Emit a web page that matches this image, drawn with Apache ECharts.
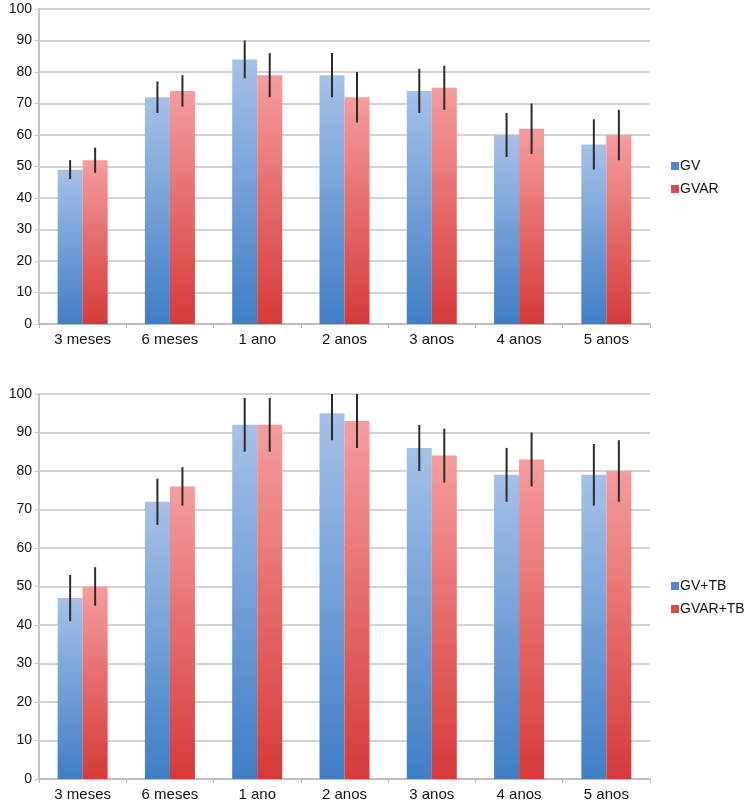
<!DOCTYPE html>
<html>
<head>
<meta charset="utf-8">
<script src="https://cdn.jsdelivr.net/npm/echarts@6/dist/echarts.min.js"></script>
<style>
html,body{margin:0;padding:0;background:#fff;}
#chart{width:750px;height:811px;}
</style>
</head>
<body>
<div id="chart"></div>
<script>
var categories = ['3 meses', '6 meses', '1 ano', '2 anos', '3 anos', '4 anos', '5 anos'];
var yTicks = [0, 10, 20, 30, 40, 50, 60, 70, 80, 90, 100];

// Top chart
var gv = [49, 72, 84, 79, 74, 60, 57];
var gvErr = [3, 5, 6, 7, 7, 7, 8];
var gvar = [52, 74, 79, 72, 75, 62, 60];
var gvarErr = [4, 5, 7, 8, 7, 8, 8];

// Bottom chart
var gvTb = [47, 72, 92, 95, 86, 79, 79];
var gvTbErr = [6, 6, 7, 7, 6, 7, 8];
var gvarTb = [50, 76, 92, 93, 84, 83, 80];
var gvarTbErr = [5, 5, 7, 7, 7, 7, 8];

var chart = echarts.init(document.getElementById('chart'));

var BAR_W = 25;
var FONT = 'Liberation Sans, Arial, Helvetica, sans-serif';

function grad(top, bottom) {
  return new echarts.graphic.LinearGradient(0, 0, 0, 1, [
    {offset: 0, color: top},
    {offset: 1, color: bottom}
  ]);
}
var blueGrad = function(){ return grad('#a6c1e8', '#3f7ec6'); };
var redGrad = function(){ return grad('#f59d9d', '#d53a39'); };

function errSeries(vals, errs, axisIdx, offset) {
  var data = vals.map(function(v, i){ return [i, v - errs[i], v + errs[i]]; });
  return {
    type: 'custom',
    xAxisIndex: axisIdx,
    yAxisIndex: axisIdx,
    silent: true,
    z: 10,
    data: data,
    encode: {x: 0, y: [1, 2]},
    renderItem: function(params, api) {
      var lo = api.coord([api.value(0), api.value(1)]);
      var hi = api.coord([api.value(0), api.value(2)]);
      var x = lo[0] + offset;
      var cs = params.coordSys;
      var y1 = Math.min(Math.max(lo[1], cs.y), cs.y + cs.height);
      var y2 = Math.min(Math.max(hi[1], cs.y), cs.y + cs.height);
      return {
        type: 'line',
        shape: {x1: x, y1: y1, x2: x, y2: y2},
        style: {stroke: '#2b2b2b', lineWidth: 2}
      };
    }
  };
}

function xAxis(gridIdx) {
  return {
    type: 'category',
    gridIndex: gridIdx,
    data: categories,
    axisLine: {lineStyle: {color: '#b8b8b8', width: 1.5}},
    axisTick: {show: true, length: 4, lineStyle: {color: '#b8b8b8'}},
    axisLabel: {color: '#111', fontSize: 15, fontFamily: FONT, margin: 8},
    splitLine: {show: false}
  };
}
function yAxis(gridIdx) {
  return {
    type: 'value',
    gridIndex: gridIdx,
    min: 0, max: 100, interval: 10,
    axisLine: {show: true, lineStyle: {color: '#c4c4c4', width: 2}},
    axisTick: {show: true, length: 4, lineStyle: {color: '#c4c4c4'}},
    axisLabel: {color: '#111', fontSize: 14, fontFamily: FONT, margin: 7,
      formatter: function(v){ return yTicks.indexOf(v) >= 0 ? String(v) : ''; }},
    splitLine: {show: true, lineStyle: {color: '#c4c4c4', width: 1.5}}
  };
}

function barSeries(name, vals, axisIdx, g) {
  return {
    name: name,
    type: 'bar',
    xAxisIndex: axisIdx,
    yAxisIndex: axisIdx,
    data: vals,
    barWidth: BAR_W,
    barGap: '0%',
    itemStyle: {color: g},
    emphasis: {disabled: true}
  };
}

var legendText = {fontSize: 14, color: '#111', fontFamily: FONT, padding: [0,0,0,-4]};

var option = {
  animation: false,
  backgroundColor: '#ffffff',
  textStyle: {fontFamily: FONT},
  grid: [
    {left: 39, right: 100, top: 9, height: 315},
    {left: 39, right: 100, top: 394, height: 385}
  ],
  xAxis: [xAxis(0), xAxis(1)],
  yAxis: [yAxis(0), yAxis(1)],
  legend: [
    {
      orient: 'vertical', left: 666, top: 154, itemGap: 9,
      itemWidth: 8, itemHeight: 8, icon: 'rect',
      textStyle: legendText,
      data: [
        {name: 'GV', itemStyle: {color: '#4f88cc'}},
        {name: 'GVAR', itemStyle: {color: '#dd4a4a'}}
      ]
    },
    {
      orient: 'vertical', left: 666, top: 574, itemGap: 9,
      itemWidth: 8, itemHeight: 8, icon: 'rect',
      textStyle: legendText,
      data: [
        {name: 'GV+TB', itemStyle: {color: '#4f88cc'}},
        {name: 'GVAR+TB', itemStyle: {color: '#dd4a4a'}}
      ]
    }
  ],
  series: [
    barSeries('GV', gv, 0, blueGrad()),
    barSeries('GVAR', gvar, 0, redGrad()),
    barSeries('GV+TB', gvTb, 1, blueGrad()),
    barSeries('GVAR+TB', gvarTb, 1, redGrad()),
    errSeries(gv, gvErr, 0, -BAR_W / 2),
    errSeries(gvar, gvarErr, 0, BAR_W / 2),
    errSeries(gvTb, gvTbErr, 1, -BAR_W / 2),
    errSeries(gvarTb, gvarTbErr, 1, BAR_W / 2)
  ]
};
chart.setOption(option);
</script>
</body>
</html>
